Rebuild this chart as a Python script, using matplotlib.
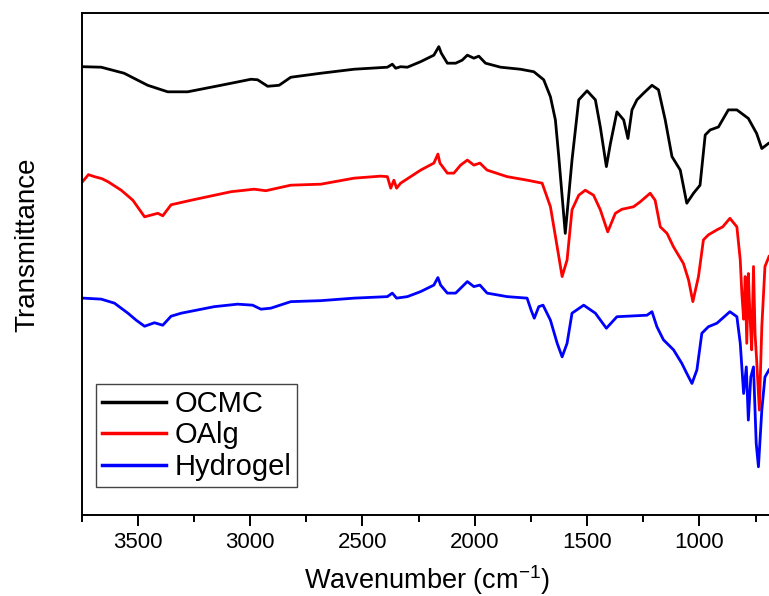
import numpy as np
import matplotlib
matplotlib.use("Agg")
import matplotlib.pyplot as plt

plt.rcParams['font.family'] = ['Liberation Sans', 'DejaVu Sans']

# wavenumber (cm-1) and transmittance (arbitrary units, offset curves)
ocmc_wn = [3743, 3663, 3561, 3456, 3367, 3278, 3130, 2996, 2967, 2922, 2871, 2819, 2685,
           2537, 2389, 2367, 2352, 2330, 2300, 2241, 2182, 2160, 2149, 2122, 2085, 2056,
           2033, 2004, 1982, 1952, 1885, 1797, 1737, 1693, 1663, 1641, 1626, 1597,
           1567, 1537, 1500, 1463, 1441, 1414, 1396, 1367, 1337, 1318, 1300, 1278, 1249,
           1211, 1182, 1152, 1122, 1085, 1056, 1026, 997, 974, 952, 915, 871, 833, 782,
           745, 722, 693]
ocmc_t = [89.3, 89.2, 88.0, 85.6, 84.3, 84.3, 85.6, 86.8, 86.7, 85.4, 85.6, 87.2, 88.0,
          88.8, 89.2, 89.8, 89.0, 89.3, 89.2, 90.3, 91.6, 93.3, 92.0, 90.0, 90.0, 90.6,
          91.6, 91.0, 91.4, 90.0, 89.2, 88.8, 88.3, 86.7, 83.3, 78.7, 71.4, 56.1,
          70.7, 82.7, 84.5, 82.7, 77.3, 69.4, 74.0, 80.3, 78.7, 75.0, 80.7, 82.7, 84.0,
          85.6, 84.7, 78.7, 71.4, 68.7, 62.1, 64.1, 65.7, 75.7, 76.7, 77.3, 80.7, 80.7,
          79.0, 76.0, 73.0, 74.0]

oalg_wn = [3746, 3720, 3693, 3660, 3633, 3574, 3522, 3470, 3411, 3389, 3352, 3263, 3085,
           2982, 2930, 2819, 2685, 2537, 2419, 2389, 2374, 2360, 2348, 2330, 2241, 2182,
           2164, 2155, 2122, 2093, 2063, 2033, 2004, 1977, 1945, 1856, 1767, 1700, 1663,
           1633, 1611, 1589, 1567, 1537, 1508, 1471, 1441, 1408, 1374, 1345, 1293, 1263,
           1219, 1197, 1174, 1144, 1115, 1071, 1048, 1029, 1004, 982, 960, 922, 896, 864,
           833, 818, 811, 803, 796, 789, 782, 775, 767, 759, 752, 745, 733, 722, 708, 690]
oalg_t = [66.4, 67.8, 67.4, 67.0, 66.4, 64.7, 62.7, 59.4, 60.1, 59.6, 61.8, 62.7, 64.4,
          64.9, 64.6, 65.7, 65.9, 67.1, 67.5, 67.4, 65.1, 66.7, 65.1, 66.1, 68.7, 70.1,
          71.9, 70.1, 68.1, 68.1, 69.7, 70.7, 69.7, 70.1, 68.7, 67.4, 66.7, 66.1, 61.4,
          53.4, 47.5, 50.8, 60.8, 63.7, 64.7, 63.7, 60.8, 56.4, 60.1, 60.9, 61.4, 62.4,
          64.1, 62.7, 57.4, 56.1, 53.4, 50.1, 46.8, 42.5, 47.5, 54.8, 55.8, 56.8, 57.4, 59.1,
          57.4, 50.8, 44.2, 39.0, 47.5, 34.2, 48.1, 40.0, 32.9, 49.5, 36.0, 30.9, 20.9,
          37.5, 49.5, 51.5]

hydro_wn = [3743, 3663, 3604, 3544, 3507, 3470, 3426, 3389, 3352, 3307, 3160, 3056, 2989,
            2952, 2908, 2819, 2685, 2537, 2389, 2367, 2348, 2300, 2241, 2182, 2164, 2152,
            2122, 2085, 2033, 2004, 1977, 1945, 1856, 1767, 1749, 1735, 1715, 1696, 1663,
            1633, 1611, 1589, 1567, 1515, 1463, 1414, 1367, 1322, 1233, 1211, 1189, 1160,
            1115, 1078, 1056, 1033, 1011, 989, 960, 922, 864, 833, 818, 803, 791, 782, 771,
            759, 747, 737, 722, 708, 690]
hydro_t = [43.2, 43.0, 42.2, 40.2, 38.8, 37.6, 38.3, 37.8, 39.6, 40.2, 41.5, 42.0, 41.8,
           41.0, 41.2, 42.5, 42.7, 43.2, 43.5, 44.2, 43.2, 43.5, 44.5, 45.8, 47.3, 45.8,
           44.2, 44.2, 46.5, 45.5, 45.8, 44.2, 43.5, 43.2, 40.8, 39.2, 41.5, 41.8, 38.8,
           34.2, 31.5, 34.2, 40.2, 41.8, 40.2, 37.2, 39.5, 39.6, 39.8, 40.5, 37.5, 34.9,
           32.9, 30.2, 28.2, 26.2, 28.9, 36.2, 37.5, 38.2, 40.5, 39.5, 34.2, 24.2, 29.5,
           18.9, 27.5, 29.5, 14.3, 9.6, 20.9, 27.5, 28.9]

labels = ['OCMC', 'OAlg', 'Hydrogel']
colors = ['black', 'red', 'blue']

fig = plt.figure(figsize=(7.69, 5.96), dpi=100)
ax = fig.add_axes([0.1062, 0.1359, 0.8938, 0.8423])

for wn, t, lab, c in zip([ocmc_wn, oalg_wn, hydro_wn], [ocmc_t, oalg_t, hydro_t], labels, colors):
    ax.plot(wn, t, color=c, lw=2.0, label=lab, solid_joinstyle='round')

ax.set_xlim(3745, 690)
ax.set_ylim(0, 100)
ax.set_xticks([3500, 3000, 2500, 2000, 1500, 1000])
ax.set_xticks(np.arange(3750, 690, -250), minor=True)
ax.set_yticks([])
ax.tick_params(axis='x', which='major', direction='out', length=8, width=1.4,
               labelsize=16, pad=4)
ax.tick_params(axis='x', which='minor', direction='out', length=5, width=1.4)
for s in ['left', 'top', 'bottom']:
    ax.spines[s].set_linewidth(1.4)
ax.spines['right'].set_visible(False)

fig.text(27 / 769, 1 - 245 / 596, 'Transmittance', rotation=90, ha='center',
         va='center', fontsize=20)
fig.text(427 / 769, 1 - 580 / 596, 'Wavenumber (cm$^{\\mathregular{-1}}$)', ha='center',
         va='center', fontsize=19.5)

leg = ax.legend(loc='lower left', bbox_to_anchor=(0.0208, 0.0564), borderaxespad=0,
                fontsize=21, fancybox=False, framealpha=1, edgecolor='#444444',
                handlelength=2.2, handletextpad=0.3, labelspacing=0.12,
                borderpad=0.2)
leg.get_frame().set_linewidth(1.0)
for h in leg.get_lines():
    h.set_linewidth(2.5)

fig.savefig('out.png', dpi=100)
